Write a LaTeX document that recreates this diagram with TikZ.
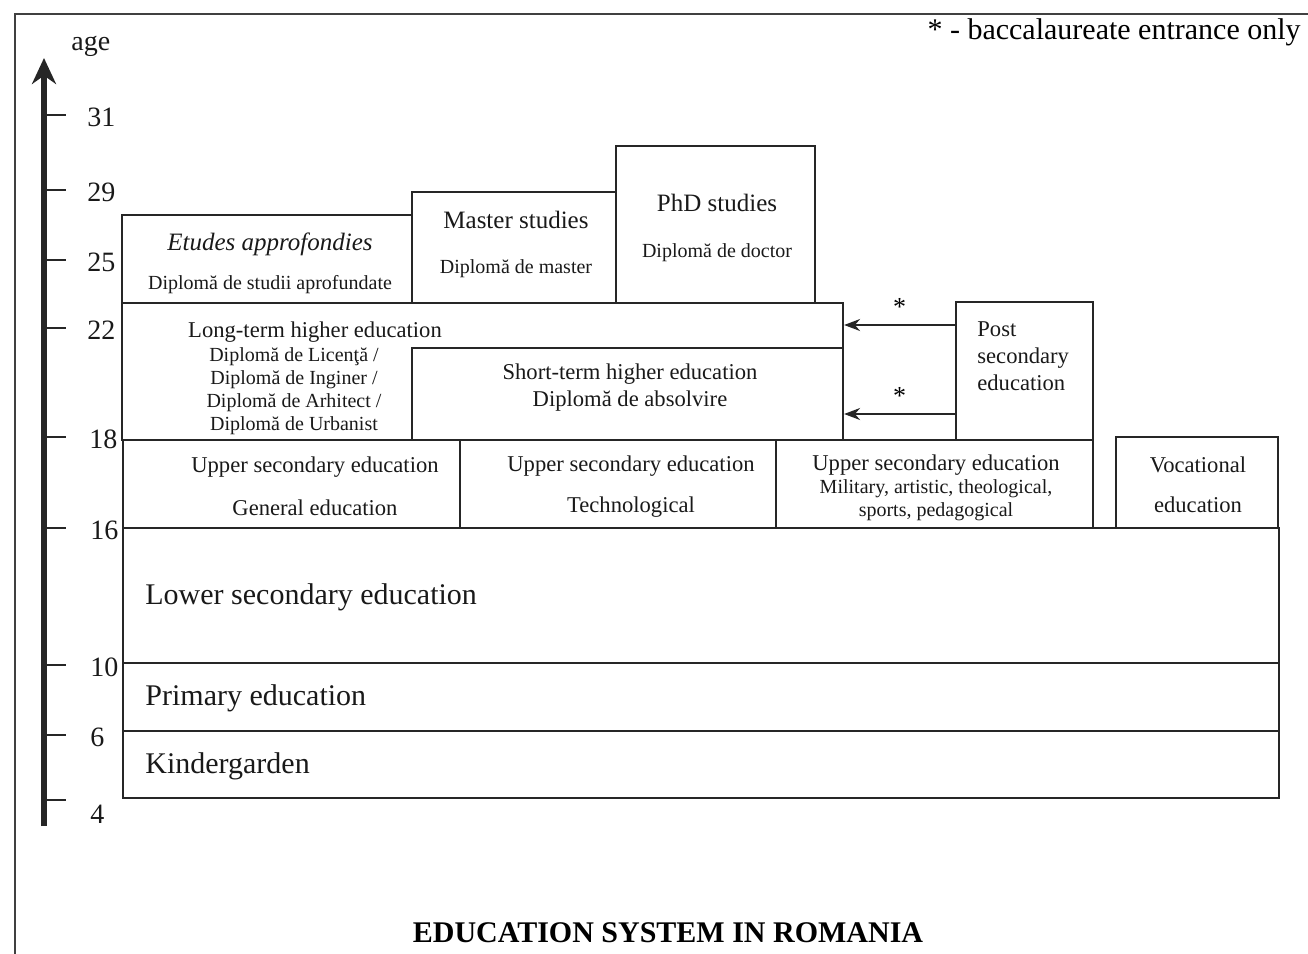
\documentclass[tikz,border=0pt]{standalone}
\usepackage{fontspec}
\setmainfont{Liberation Serif}
\usetikzlibrary{positioning,fit,arrows.meta}

\begin{document}
\begin{tikzpicture}[x=0.5pt,y=-0.5pt,
	box/.style={draw=black!85, line width=1.1pt, inner sep=0pt},
	txt/.style={inner sep=0pt, yshift=-1pt, text=black!90,
	font=\fontsize{11.3}{13.5}\selectfont},
	dipl/.style={inner sep=0pt, yshift=-1pt, text=black!90, align=center,
	font=\fontsize{10}{11.5}\selectfont},
	head/.style={inner sep=0pt, yshift=-1pt, text=black!90,
	font=\fontsize{12.5}{15}\selectfont},
	big/.style={inner sep=0pt, yshift=-1.5pt, text=black!90, anchor=west,
	font=\fontsize{15}{18}\selectfont},
	agelabel/.style={inner sep=0pt, yshift=-1pt, anchor=west, text=black!90,
	font=\fontsize{14}{16}\selectfont},
	tickline/.style={draw=black!85, line width=1pt},
	arr/.style={-{Stealth[length=8pt,width=6pt]}, draw=black!85, line width=1pt},
	starmark/.style={inner sep=0pt, font=\fontsize{13}{15}\selectfont}
	]
	\useasboundingbox (0,0) rectangle (1308,954);
	% page frame
	\draw[black!75, line width=0.8pt] (15,954) -- (15,14) -- (1308,14);
	
	% age axis
	\draw[line width=3pt, black!85, -{Stealth[length=13pt,width=12pt]}]
	(44,826) -- (44,58);
	\node[agelabel] (age) at (71,44) {age};
	\draw[tickline] (44,115) -- (66,115);
	\draw[tickline] (44,190) -- (66,190);
	\draw[tickline] (44,260) -- (66,260);
	\draw[tickline] (44,328) -- (66,328);
	\draw[tickline] (44,437) -- (66,437);
	\draw[tickline] (44,528) -- (66,528);
	\draw[tickline] (44,665) -- (66,665);
	\draw[tickline] (44,735) -- (66,735);
	\draw[tickline] (44,800) -- (66,800);
	\node[agelabel] (a31) at (87,115) {31};
	\node[agelabel] (a29) at (87,190) {29};
	\node[agelabel] (a25) at (87,260) {25};
	\node[agelabel] (a22) at (87,328) {22};
	\node[agelabel] (a18) at (89,437) {18};
	\node[agelabel] (a16) at (90,528) {16};
	\node[agelabel] (a10) at (90,665) {10};
	\node[agelabel] (a6) at (90,735) {6};
	\node[agelabel] (a4) at (90,812) {4};
	
	% boxes
	\node[box, fit={(123,731) (1279,798)}] (kinder) {};
	\node[box, fit={(123,663) (1279,731)}] (primary) {};
	\node[box, fit={(123,528) (1279,663)}] (lower) {};
	\node[box, fit={(123,440) (460,528)}] (usgen) {};
	\node[box, fit={(460,440) (776,528)}] (ustech) {};
	\node[box, fit={(776,440) (1093,528)}] (usmil) {};
	\node[box, fit={(1116,437) (1278,528)}] (voc) {};
	\node[box, fit={(122,303) (843,440)}] (lt) {};
	\node[box, fit={(412,348) (843,440)}] (st) {};
	\node[box, fit={(956,302) (1093,440)}] (post) {};
	\node[box, fit={(122,215) (412,303)}] (etudes) {};
	\node[box, fit={(412,192) (616,303)}] (master) {};
	\node[box, fit={(616,146) (815,303)}] (phd) {};
	
	% texts
	\node[big] (kindertxt) at (145,763) {Kindergarden};
	\node[big] (primarytxt) at (145,695) {Primary education};
	\node[big] (lowertxt) at (145,594) {Lower secondary education};
	\node[txt] (usgentxt) at (315,465) {Upper secondary education};
	\node[txt] (usgensub) at (315,506) {General education};
	\node[txt] (ustechtxt) at (631,464) {Upper secondary education};
	\node[txt] (ustechsub) at (631,505) {Technological};
	\node[txt] (usmiltxt) at (936,463) {Upper secondary education};
	\node[dipl] (usmilsub) at (936,498) {Military, artistic, theological,\\sports, pedagogical};
	\node[txt] (voctxt) at (1198,463) {Vocational};
	\node[txt] (vocsub) at (1198,503) {education};
	\node[txt] (lttxt) at (315,330) {Long-term higher education};
	\node[dipl] (ltsub) at (294,389) {Diplomă de Licenţă /\\Diplomă de Inginer /\\Diplomă de Arhitect /\\Diplomă de Urbanist};
	\node[txt, align=center] (sttxt) at (630,386) {Short-term higher education\\Diplomă de absolvire};
	\node[txt, align=left, anchor=west] (posttxt) at (977,354) {Post\\secondary\\education};
	\node[head, font=\fontsize{12.5}{15}\itshape] (etudestxt) at (270,242) {Etudes approfondies};
	\node[dipl] (etudessub) at (270,283) {Diplomă de studii aprofundate};
	\node[head] (mastertxt) at (516,218) {Master studies};
	\node[dipl] (mastersub) at (516,267) {Diplomă de master};
	\node[head] (phdtxt) at (717,201) {PhD studies};
	\node[dipl] (phdsub) at (717,251) {Diplomă de doctor};
	
	% baccalaureate entrance
	\draw[arr] (post.west |- 0,325) -- (lt.east |- 0,325)
	node[starmark, midway, above=4.5pt] (star1) {*};
	\draw[arr] (post.west |- 0,414) -- (st.east |- 0,414)
	node[starmark, midway, above=4.5pt] (star2) {*};
	
	\node[inner sep=0pt, anchor=east, font=\fontsize{15}{18}\selectfont]
	(legend) at (1301,32) {* - baccalaureate entrance only};
	\node[inner sep=0pt, font=\fontsize{15}{18}\bfseries] (title) at (668,933)
	{EDUCATION SYSTEM IN ROMANIA};
\end{tikzpicture}
\end{document}
